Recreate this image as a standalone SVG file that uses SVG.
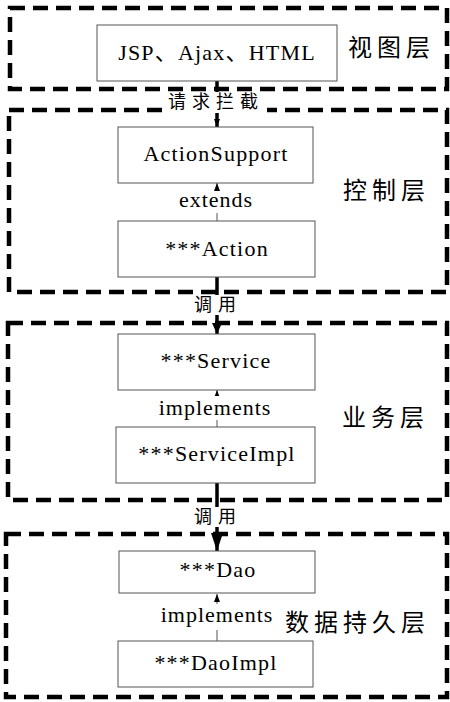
<svg xmlns="http://www.w3.org/2000/svg" width="450" height="702" viewBox="0 0 450 702">
<defs>
<style>
.layer{fill:none;stroke:#000;stroke-width:4.5;stroke-dasharray:15 8}
.box{fill:#fff;stroke:#555;stroke-width:1}
.nt{font-family:"Liberation Serif","Noto Sans CJK SC",serif;font-size:22px;letter-spacing:1.2px;fill:#000;text-anchor:middle}
.lt{font-family:"Liberation Serif",serif;font-size:22px;letter-spacing:1px;fill:#000;text-anchor:middle}
.ct{font-family:"Noto Sans CJK SC",sans-serif;font-size:18px;letter-spacing:6px;fill:#000}
.ll{font-family:"Noto Sans CJK SC",sans-serif;font-size:24px;letter-spacing:5px;fill:#000}
.bg{fill:#fff}
.thin{stroke:#555;stroke-width:1;fill:none}
.thick{stroke:#000;stroke-width:3.5;fill:none}
</style>
<marker id="arrS" viewBox="0 0 8 6" refX="8" refY="3" markerWidth="8" markerHeight="6" markerUnits="userSpaceOnUse" orient="auto"><path d="M0,0 L8,3 L0,6 z" fill="#000"/></marker>
<marker id="arrM" viewBox="0 0 11 10" refX="11" refY="5" markerWidth="11" markerHeight="10" markerUnits="userSpaceOnUse" orient="auto"><path d="M0,0 L11,5 L0,10 z" fill="#000"/></marker>
<marker id="arrL" viewBox="0 0 18 12" refX="18" refY="6" markerWidth="18" markerHeight="12" markerUnits="userSpaceOnUse" orient="auto"><path d="M0,0 L18,6 L0,12 z" fill="#000"/></marker>
</defs>

<g id="layers">
<rect class="layer" x="10" y="8" width="437" height="81"/>
<rect class="layer" x="9" y="110" width="438" height="182"/>
<rect class="layer" x="8" y="323" width="439" height="177"/>
<rect class="layer" x="6" y="534" width="441" height="163"/>
<text class="ll" x="348" y="56">视图层</text>
<text class="ll" x="343" y="199">控制层</text>
<text class="ll" x="342" y="426">业务层</text>
<text class="ll" x="285" y="631">数据持久层</text>
</g>

<g id="connectors">
<line class="thick" x1="217" y1="81" x2="217" y2="127" stroke-width="3" marker-end="url(#arrS)"/>
<line class="thin" x1="217" y1="221" x2="217" y2="183" marker-end="url(#arrS)"/>
<line class="thick" x1="217" y1="277" x2="217" y2="334" marker-end="url(#arrM)"/>
<line class="thin" x1="217" y1="427" x2="217" y2="390" marker-end="url(#arrS)"/>
<line class="thick" x1="217" y1="483" x2="217" y2="551" marker-end="url(#arrL)"/>
<line class="thin" x1="217" y1="641" x2="217" y2="594" marker-end="url(#arrS)"/>
<g id="lbl-req"><rect class="bg" x="164" y="92" width="103" height="21"/><text class="ct" x="168" y="108">请求拦截</text></g>
<g id="lbl-ext"><rect class="bg" x="176" y="191" width="80" height="22"/><text class="lt" x="216" y="207">extends</text></g>
<g id="lbl-call1"><rect class="bg" x="190" y="295" width="51" height="20"/><text class="ct" x="194" y="311">调用</text></g>
<g id="lbl-impl1"><rect class="bg" x="155" y="396" width="120" height="24"/><text class="lt" x="215" y="415">implements</text></g>
<g id="lbl-call2"><rect class="bg" x="190" y="507" width="51" height="20"/><text class="ct" x="194" y="523">调用</text></g>
<g id="lbl-impl2"><rect class="bg" x="157" y="604" width="120" height="26"/><text class="lt" x="217" y="622">implements</text></g>
</g>

<g id="node-view"><rect class="box" x="97" y="25" width="240" height="56"/><text class="nt" x="217" y="60">JSP、Ajax、HTML</text></g>
<g id="node-actionsupport"><rect class="box" x="118" y="127" width="195" height="56"/><text class="nt" x="216" y="161">ActionSupport</text></g>
<g id="node-action"><rect class="box" x="118" y="221" width="197" height="56"/><text class="nt" x="217" y="256">***Action</text></g>
<g id="node-service"><rect class="box" x="118" y="334" width="197" height="56"/><text class="nt" x="216" y="368">***Service</text></g>
<g id="node-serviceimpl"><rect class="box" x="116" y="427" width="199" height="56"/><text class="nt" x="217" y="461">***ServiceImpl</text></g>
<g id="node-dao"><rect class="box" x="119" y="551" width="196" height="42"/><text class="nt" x="218" y="577">***Dao</text></g>
<g id="node-daoimpl"><rect class="box" x="118" y="641" width="195" height="46"/><text class="nt" x="216" y="670">***DaoImpl</text></g>
</svg>
